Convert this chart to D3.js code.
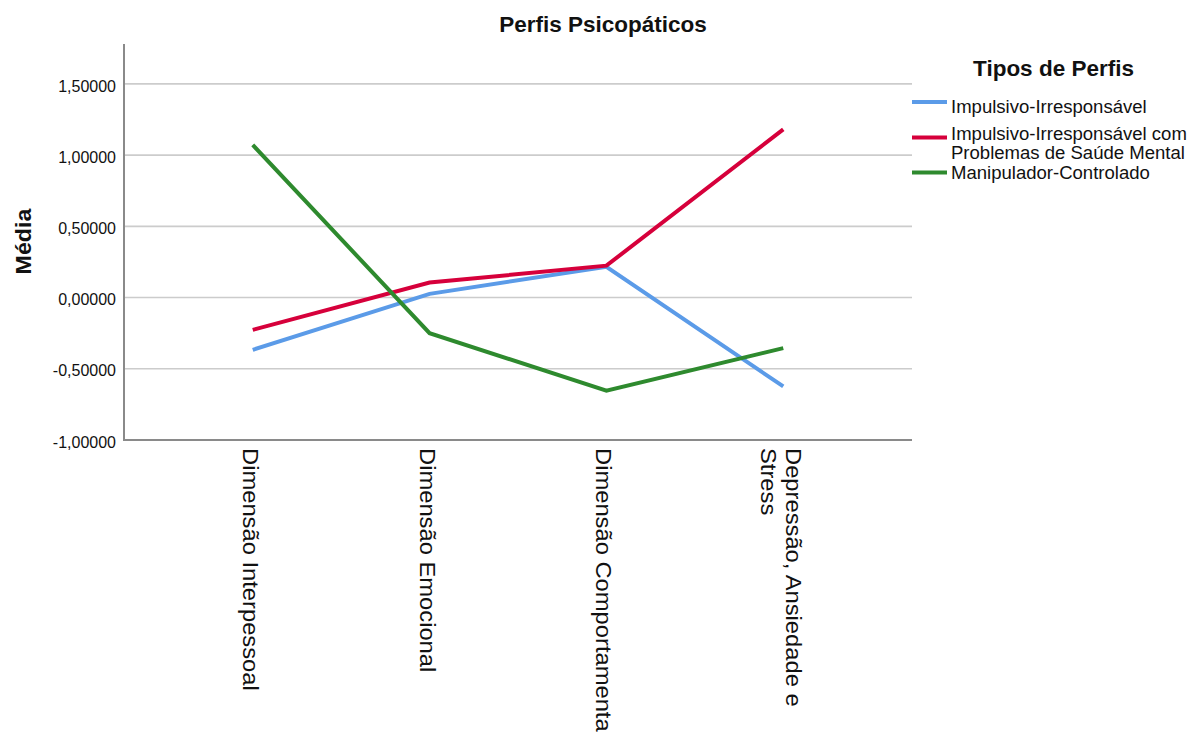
<!DOCTYPE html>
<html>
<head>
<meta charset="utf-8">
<script src="https://cdn.jsdelivr.net/npm/d3@7"></script>
<style>
  html, body { margin: 0; padding: 0; background: #fff; }
  svg { display: block; font-family: "Liberation Sans", Arial, sans-serif; }
</style>
</head>
<body>
<svg id="chart" width="1193" height="733"></svg>
<script>
// ---- Data ----
const categories = [
  ["Dimensão Interpessoal"],
  ["Dimensão Emocional"],
  ["Dimensão Comportamenta"],
  ["Depressão, Ansiedade e", "Stress"]
];
const seriesNames = [
  ["Impulsivo-Irresponsável"],
  ["Impulsivo-Irresponsável com", "Problemas de Saúde Mental"],
  ["Manipulador-Controlado"]
];
const impulsivoIrresponsavel = [-0.367, 0.026, 0.216, -0.624];
const impulsivoSaudeMental   = [-0.227, 0.105, 0.224, 1.181];
const manipuladorControlado  = [1.071, -0.250, -0.654, -0.355];
const yTicks = [-1, -0.5, 0, 0.5, 1, 1.5];
const yMax = 1.78;
const seriesColors = ["#5b9be8", "#d6003b", "#2e8a2e"];

const series = [impulsivoIrresponsavel, impulsivoSaudeMental, manipuladorControlado];

// ---- Layout ----
const svg = d3.select("#chart");
const plot = { left: 124, right: 912, top: 44, bottom: 440 };

const x = d3.scalePoint()
  .domain(d3.range(categories.length))
  .range([plot.left, plot.right])
  .padding(0.728);

const y = d3.scaleLinear()
  .domain([-1, yMax])
  .range([plot.bottom, plot.top]);

const fmt = v => d3.format(".5f")(v).replace(".", ",").replace("−", "-");

// Gridlines
svg.append("g").selectAll("line")
  .data(yTicks.filter(t => t > -1))
  .join("line")
  .attr("x1", plot.left).attr("x2", plot.right)
  .attr("y1", d => y(d)).attr("y2", d => y(d))
  .attr("stroke", "#cccccc").attr("stroke-width", 1.6);

// Y axis
const yAxis = d3.axisLeft(y).tickValues(yTicks).tickSize(0).tickPadding(8).tickFormat(fmt);
const gy = svg.append("g").attr("transform", `translate(${plot.left},0)`).call(yAxis);
gy.select(".domain").remove();
gy.selectAll("text")
  .attr("font-size", 16)
  .attr("fill", "#111")
  .attr("font-family", "Liberation Sans, Arial, sans-serif")
  .attr("dy", "0.45em");

// Axis lines
svg.append("line")
  .attr("x1", plot.left).attr("x2", plot.left)
  .attr("y1", plot.top).attr("y2", plot.bottom + 1)
  .attr("stroke", "#8a8a8a").attr("stroke-width", 2);
svg.append("line")
  .attr("x1", plot.left - 1).attr("x2", plot.right)
  .attr("y1", plot.bottom).attr("y2", plot.bottom)
  .attr("stroke", "#8a8a8a").attr("stroke-width", 2);

// X labels (rotated 90°)
const xl = svg.append("g").selectAll("text")
  .data(categories)
  .join("text")
  .attr("transform", (d, i) => `translate(${x(i)},448) rotate(90) scale(1.08,1)`)
  .attr("font-size", 22)
  .attr("fill", "#111");
xl.each(function(lines) {
  const t = d3.select(this);
  const n = lines.length;
  lines.forEach((ln, j) => {
    t.append("tspan")
      .attr("x", 0)
      .attr("y", 10 + (j - (n - 1) / 2) * 25)
      .text(ln);
  });
});

// Lines
const line = d3.line()
  .x((d, i) => x(i))
  .y(d => y(d));

svg.append("g").selectAll("path")
  .data(series)
  .join("path")
  .attr("d", d => line(d))
  .attr("fill", "none")
  .attr("stroke", (d, i) => seriesColors[i])
  .attr("stroke-width", 4)
  .attr("stroke-linejoin", "miter")
  .attr("stroke-linecap", "butt");

// Title
svg.append("text")
  .attr("x", 603).attr("y", 32)
  .attr("text-anchor", "middle")
  .attr("font-size", 22.5).attr("font-weight", "bold")
  .attr("fill", "#111")
  .text("Perfis Psicopáticos");

// Y title
svg.append("text")
  .attr("transform", "translate(31,241.5) rotate(-90) scale(1.08,1)")
  .attr("text-anchor", "middle")
  .attr("font-size", 21.5).attr("font-weight", "bold")
  .attr("fill", "#111")
  .text("Média");

// Legend
const legend = svg.append("g");
legend.append("text")
  .attr("x", 1053.5).attr("y", 76)
  .attr("text-anchor", "middle")
  .attr("font-size", 22.5).attr("font-weight", "bold")
  .attr("fill", "#111")
  .text("Tipos de Perfis");

const legendLineY = [102, 137.5, 172.5];
const legendTextY = [113.3, 140, 179.3];
seriesNames.forEach((names, i) => {
  legend.append("line")
    .attr("x1", 912).attr("x2", 947)
    .attr("y1", legendLineY[i]).attr("y2", legendLineY[i])
    .attr("stroke", seriesColors[i]).attr("stroke-width", 4);
  names.forEach((nm, j) => {
    legend.append("text")
      .attr("transform", `translate(951,${legendTextY[i] + j * 18.5}) scale(1.06,1)`)
      .attr("font-size", 17.5)
      .attr("fill", "#111")
      .text(nm);
  });
});
</script>
</body>
</html>
